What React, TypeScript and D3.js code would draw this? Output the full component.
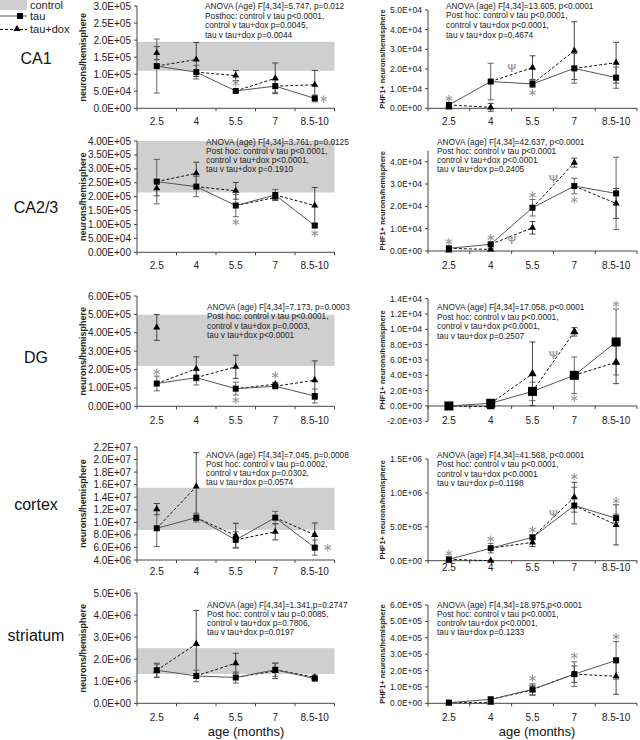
import * as d3 from "d3";

const font = "'Liberation Sans', Arial, Helvetica, sans-serif";
const ages = ["2.5", "4", "5.5", "7", "8.5-10"];

// CA1
const ca1Tau = [1.24e5, 1.06e5, 0.51e5, 0.65e5, 0.29e5];
const ca1TauErr = [0.79e5, 0.2e5, 0.03e5, 0.18e5, 0.1e5];
const ca1Dox = [1.62e5, 1.43e5, 0.96e5, 0.88e5, 0.69e5];
const ca1DoxErr = [0.19e5, 0.5e5, 0.15e5, 0.45e5, 0.42e5];
const ca1Control = [1.1e5, 1.95e5];
const ca1Stars = [[2, 0.74e5, 0], [4, 0.27e5, 9]];
const ca1Notes = ["ANOVA (Age) F[4,34]=5.747, p=0.012", "Posthoc: control v tau p<0.0001,", "control v tau+dox p=0.0045,", "tau v tau+dox p=0.0044"];

const ca1PhfTau = [0.17e4, 1.36e4, 1.24e4, 2.03e4, 1.56e4];
const ca1PhfTauErr = [0.1e4, 0.93e4, 0.18e4, 0.75e4, 0.54e4];
const ca1PhfDox = [0.05e4, 0.05e4, 2.07e4, 2.93e4, 2.32e4];
const ca1PhfDoxErr = [0.03e4, 0.2e4, 0.6e4, 1.47e4, 1.04e4];
const ca1PhfStars = [[0, 0.5e4, 0], [2, 0.79e4, 0]];
const ca1PhfPsi = [[1, 2.05e4]];
const ca1PhfNotes = ["ANOVA (age) F[4,34]=13.605, p<0.0001", "Post hoc: control v tau p<0.0001,", "control v tau+dox p<0.0001,", "tau v tau+dox p=0.4674"];

// CA2/3
const ca23Tau = [2.54e5, 2.36e5, 1.68e5, 2.06e5, 0.96e5];
const ca23TauErr = [0.8e5, 0.36e5, 0.4e5, 0.2e5, 0.06e5];
const ca23Dox = [2.3e5, 2.84e5, 2.21e5, 1.97e5, 1.68e5];
const ca23DoxErr = [0.27e5, 0.4e5, 0.3e5, 0.1e5, 0.65e5];
const ca23Control = [2.15e5, 4.0e5];
const ca23Stars = [[2, 1.08e5, 0], [4, 0.68e5, 0]];
const ca23Notes = ["ANOVA (age) F[4,34]=3.761, p=0.0125", "Post hoc: control v tau p<0.0001,", "control v tau+dox p<0.0001,", "tau v tau+dox p=0.1910"];

const ca23PhfTau = [0.12e4, 0.3e4, 1.94e4, 2.91e4, 2.58e4];
const ca23PhfTauErr = [0.05e4, 0.05e4, 0.37e4, 0.35e4, 1.62e4];
const ca23PhfDox = [0.02e4, 0.07e4, 1.04e4, 3.96e4, 2.13e4];
const ca23PhfDoxErr = [0.03e4, 0.05e4, 0.28e4, 0.2e4, 0.67e4];
const ca23PhfStars = [[0, 0.42e4, 0], [1, 0.6e4, 0], [2, 2.51e4, 0], [3, 2.29e4, 0]];
const ca23PhfPsi = [[1, 0.5e4], [2, 3.23e4]];
const ca23PhfNotes = ["ANOVA (age) F[4,34]=42.637, p<0.0001", "Post hoc: control v tau p<0.0001", "control v tau+dox p<0.0001", "tau v tau+dox p=0.2405"];

// DG
const dgTau = [1.24e5, 1.56e5, 0.96e5, 1.09e5, 0.56e5];
const dgTauErr = [0.4e5, 0.4e5, 0.35e5, 0.1e5, 0.38e5];
const dgDox = [4.29e5, 2.04e5, 2.15e5, 1.2e5, 1.42e5];
const dgDoxErr = [0.7e5, 0.65e5, 0.63e5, 0.1e5, 1.05e5];
const dgControl = [2.2e5, 4.98e5];
const dgStars = [[0, 1.87e5, 0], [2, 0.33e5, 0], [3, 1.69e5, 0]];
const dgNotes = ["ANOVA (age) F[4,34]=7.173, p=0.0003", "Post hoc: control v tau p<0.0001,", "control v tau+dox p=0.0003,", "tau v tau+dox p<0.0001"];

const dgPhfTau = [0, 0.35e3, 1.9e3, 4.0e3, 8.35e3];
const dgPhfTauErr = [0.05e3, 0.4e3, 1.2e3, 2.4e3, 4.3e3];
const dgPhfDox = [0, -0.1e3, 4.2e3, 9.67e3, 5.71e3];
const dgPhfDoxErr = [0.05e3, 0.2e3, 4.15e3, 0.55e3, 2.8e3];
const dgPhfStars = [[3, 1.0e3, 0], [4, 13.3e3, 0]];
const dgPhfPsi = [[2, 6.6e3]];
const dgPhfNotes = ["ANOVA (age) F[4,34]=17.058, p<0.0001", "Post hoc: control v tau p<0.0001,", "control v tau+dox p<0.0001,", "tau v tau+dox p=0.2507"];

// cortex
const ctxTau = [9.05e6, 10.75e6, 7.2e6, 10.75e6, 5.97e6];
const ctxTauErr = [2.9e6, 0.7e6, 1.3e6, 1.0e6, 1.2e6];
const ctxDox = [12.1e6, 15.7e6, 7.9e6, 8.5e6, 8.0e6];
const ctxDoxErr = [0.9e6, 5.4e6, 1.95e6, 1.3e6, 1.9e6];
const ctxControl = [8.8e6, 15.5e6];
const ctxStars = [[4, 5.97e6, 13]];
const ctxNotes = ["ANOVA (age) F[4,34]=7.045, p=0.0008", "Post hoc: control v tau p=0.0002,", "control v tau+dox p=0.0302,", "tau v tau+dox p=0.0574"];

const ctxPhfTau = [0.02e6, 1.85e5, 3.45e5, 8.13e5, 6.27e5];
const ctxPhfTauErr = [0.01e6, 0.7e5, 0.3e5, 2.7e5, 0.6e5];
const ctxPhfDox = [0, 0, 2.7e5, 9.36e5, 5.28e5];
const ctxPhfDoxErr = [0.005e6, 0.005e6, 0.6e5, 2.2e5, 2.96e5];
const ctxPhfStars = [[0, 1.1e5, 0], [1, 3.2e5, 0], [2, 4.55e5, 0], [3, 12.4e5, 0], [4, 8.85e5, 0]];
const ctxPhfPsi = [[2, 6.9e5]];
const ctxPhfNotes = ["ANOVA (age) F[4,34]=41.568, p<0.0001", "Post hoc: control v tau p<0.0001,", "control v tau+dox p<0.0001", "tau v tau+dox p=0.1198"];

// striatum
const strTau = [1.5e6, 1.24e6, 1.17e6, 1.52e6, 1.12e6];
const strTauErr = [0.32e6, 0.26e6, 0.25e6, 0.3e6, 0.08e6];
const strDox = [1.48e6, 2.69e6, 1.82e6, 1.47e6, 1.18e6];
const strDoxErr = [0.3e6, 1.52e6, 0.45e6, 0.35e6, 0.1e6];
const strControl = [1.33e6, 2.5e6];
const strNotes = ["ANOVA (age) F[4,34]=1.341,p=0.2747", "Post hoc: control v tau p=0.0085,", "control v tau+dox p=0.7806,", "tau v tau+dox p=0.0197"];

const strPhfTau = [0.04e5, 0.24e5, 0.85e5, 1.78e5, 2.62e5];
const strPhfTauErr = [0.02e5, 0.15e5, 0.34e5, 0.75e5, 1.15e5];
const strPhfDox = [0, 0.04e5, 0.8e5, 1.78e5, 1.65e5];
const strPhfDoxErr = [0.01e5, 0.03e5, 0.3e5, 0.5e5, 1.1e5];
const strPhfStars = [[2, 1.52e5, 0], [3, 2.9e5, 0], [4, 4.06e5, 0]];
const strPhfNotes = ["ANOVA (age) F[4,34]=18.975,p<0.0001", "Post hoc: control v tau p<0.0001,", "controlv tau+dox p<0.0001,", "tau v tau+dox p=0.1233"];

const rowLabels = ["CA1", "CA2/3", "DG", "cortex", "striatum"];

// Excel style "3.0E+05"
const sci = (v: number, d: number) => {
  if (v === 0) return (0).toFixed(d) + "E+00";
  const e = Math.floor(Math.log10(Math.abs(v)) + 1e-9);
  const m = v / Math.pow(10, e);
  return m.toFixed(d) + "E" + (e < 0 ? "-" : "+") + String(Math.abs(e)).padStart(2, "0");
};

const LX: [number, number] = [137, 334.5];
const RX: [number, number] = [428, 637];

type Cfg = {
  xr: [number, number];
  yr: [number, number];
  domain: [number, number];
  step: number;
  tickMax?: number;
  digits: number;
  right: boolean;
  labelY: number;
  tau: number[];
  tauErr: number[];
  dox: number[];
  doxErr: number[];
  control?: number[];
  stars?: number[][];
  psi?: number[][];
  notes: string[];
  noteX: number;
  noteY: number;
  noteStep: number;
  big?: boolean;
};

const panels: Cfg[] = [
  { xr: LX, yr: [108.3, 6], domain: [0, 3e5], step: 0.5e5, digits: 1, right: false, labelY: 125,
    tau: ca1Tau, tauErr: ca1TauErr, dox: ca1Dox, doxErr: ca1DoxErr, control: ca1Control, stars: ca1Stars,
    notes: ca1Notes, noteX: 205, noteY: 9, noteStep: 9.7 },
  { xr: RX, yr: [108.3, 10], domain: [0, 5e4], step: 1e4, digits: 1, right: true, labelY: 125,
    tau: ca1PhfTau, tauErr: ca1PhfTauErr, dox: ca1PhfDox, doxErr: ca1PhfDoxErr, stars: ca1PhfStars, psi: ca1PhfPsi,
    notes: ca1PhfNotes, noteX: 446, noteY: 8.5, noteStep: 9.7 },
  { xr: LX, yr: [252.3, 141], domain: [0, 4e5], step: 0.5e5, digits: 2, right: false, labelY: 269,
    tau: ca23Tau, tauErr: ca23TauErr, dox: ca23Dox, doxErr: ca23DoxErr, control: ca23Control, stars: ca23Stars,
    notes: ca23Notes, noteX: 206, noteY: 145, noteStep: 9 },
  { xr: RX, yr: [251, 150.6], domain: [0, 4.5e4], step: 1e4, tickMax: 4e4, digits: 1, right: true, labelY: 269,
    tau: ca23PhfTau, tauErr: ca23PhfTauErr, dox: ca23PhfDox, doxErr: ca23PhfDoxErr, stars: ca23PhfStars, psi: ca23PhfPsi,
    notes: ca23PhfNotes, noteX: 437, noteY: 145, noteStep: 9 },
  { xr: LX, yr: [406.3, 296], domain: [0, 6e5], step: 1e5, digits: 2, right: false, labelY: 424,
    tau: dgTau, tauErr: dgTauErr, dox: dgDox, doxErr: dgDoxErr, control: dgControl, stars: dgStars,
    notes: dgNotes, noteX: 207, noteY: 310, noteStep: 9.3 },
  { xr: RX, yr: [421.3, 298.7], domain: [-2e3, 1.4e4], step: 2e3, digits: 1, right: true, labelY: 424,
    tau: dgPhfTau, tauErr: dgPhfTauErr, dox: dgPhfDox, doxErr: dgPhfDoxErr, stars: dgPhfStars, psi: dgPhfPsi,
    notes: dgPhfNotes, noteX: 437, noteY: 310, noteStep: 9.5, big: true },
  { xr: LX, yr: [560, 447], domain: [4e6, 2.2e7], step: 2e6, digits: 1, right: false, labelY: 575,
    tau: ctxTau, tauErr: ctxTauErr, dox: ctxDox, doxErr: ctxDoxErr, control: ctxControl, stars: ctxStars,
    notes: ctxNotes, noteX: 206, noteY: 458, noteStep: 9.1 },
  { xr: RX, yr: [560.7, 459], domain: [0, 1.5e6], step: 5e5, digits: 1, right: true, labelY: 571,
    tau: ctxPhfTau, tauErr: ctxPhfTauErr, dox: ctxPhfDox, doxErr: ctxPhfDoxErr, stars: ctxPhfStars, psi: ctxPhfPsi,
    notes: ctxPhfNotes, noteX: 437, noteY: 458, noteStep: 9.4 },
  { xr: LX, yr: [703.3, 593], domain: [0, 5e6], step: 1e6, digits: 1, right: false, labelY: 721,
    tau: strTau, tauErr: strTauErr, dox: strDox, doxErr: strDoxErr, control: strControl,
    notes: strNotes, noteX: 207, noteY: 608, noteStep: 8.9 },
  { xr: RX, yr: [703.3, 605], domain: [0, 6e5], step: 1e5, digits: 1, right: true, labelY: 721,
    tau: strPhfTau, tauErr: strPhfTauErr, dox: strPhfDox, doxErr: strPhfDoxErr, stars: strPhfStars,
    notes: strPhfNotes, noteX: 437, noteY: 608, noteStep: 9.1 },
];

const Star = ({ cx, cy }: { cx: number; cy: number }) => {
  const r = 3.6;
  const d = [90, 30, 150]
    .map((a) => {
      const t = (a * Math.PI) / 180;
      return `M${cx - r * Math.cos(t)},${cy - r * Math.sin(t)}L${cx + r * Math.cos(t)},${cy + r * Math.sin(t)}`;
    })
    .join("");
  return <path d={d} stroke="#999" strokeWidth={1.1} />;
};

const Panel = ({ c }: { c: Cfg }) => {
  const x = d3.scalePoint().domain(ages).range(c.xr).padding(0.5);
  const y = d3.scaleLinear().domain(c.domain).range(c.yr);
  const xs = (i: number) => x(ages[i]) as number;
  const ticks = d3.range(c.domain[0], (c.tickMax ?? c.domain[1]) + c.step / 2, c.step);
  const axisY = y(Math.max(0, c.domain[0]));
  const line = d3.line<number>().x((_, i) => xs(i)).y((v) => y(v));
  // in the original the dashed segments leave from the previous tau point
  const seg = d3.line<[number, number]>().x((d) => xs(d[0])).y((d) => y(d[1]));
  const doxPath = d3
    .range(c.dox.length - 1)
    .map((i) => seg([[i, c.tau[i]], [i + 1, c.dox[i + 1]]]))
    .join("");
  const tri = d3.symbol(d3.symbolTriangle, c.big ? 30 : 22)();
  const sq = c.big ? 9 : 6;
  const yMid = (c.yr[0] + c.yr[1]) / 2;

  const errBars = (vals: number[], errs: number[], col: string) =>
    vals.map((v, i) => {
      const cx = xs(i);
      const y1 = y(v - errs[i]);
      const y2 = y(v + errs[i]);
      return (
        <g key={i} stroke={col} strokeWidth={0.9}>
          <line x1={cx} x2={cx} y1={y1} y2={y2} />
          <line x1={cx - 3} x2={cx + 3} y1={y1} y2={y1} />
          <line x1={cx - 3} x2={cx + 3} y1={y2} y2={y2} />
        </g>
      );
    });

  return (
    <g fontFamily={font}>
      {c.control && (
        <rect x={c.xr[0]} width={c.xr[1] - c.xr[0]} y={y(c.control[1])} height={y(c.control[0]) - y(c.control[1])} fill="#cfcfcf" />
      )}
      {/* y axis */}
      <line x1={c.xr[0]} x2={c.xr[0]} y1={c.yr[0]} y2={c.yr[1]} stroke="#444" />
      {ticks.map((t) => (
        <g key={t}>
          <line x1={c.xr[0] - 3} x2={c.xr[0]} y1={y(t)} y2={y(t)} stroke="#444" />
          <text x={c.xr[0] - 6} y={y(t)} dy="0.35em" textAnchor="end" fontSize={c.right ? 8.5 : 10} fill="#222">
            {sci(t, c.digits)}
          </text>
        </g>
      ))}
      {/* x axis */}
      <line x1={c.xr[0]} x2={c.xr[1]} y1={axisY} y2={axisY} stroke="#444" />
      {d3.range(6).map((k) => {
        const tx = c.xr[0] + k * x.step();
        return <line key={k} x1={tx} x2={tx} y1={axisY} y2={axisY + 3} stroke="#444" />;
      })}
      {ages.map((a, i) => (
        <text key={a} x={xs(i)} y={c.labelY} textAnchor="middle" fontSize={10} fill="#222">
          {a}
        </text>
      ))}
      <text
        transform={`translate(${c.right ? c.xr[0] - 46 : c.xr[0] - 54},${yMid}) rotate(-90)`}
        textAnchor="middle"
        dy="0.35em"
        fontSize={c.right ? 7.5 : 9}
        fontWeight="bold"
        fill="#222"
      >
        {c.right ? "PHF1+ neurons/hemisphere" : "neurons/hemisphere"}
      </text>
      {/* series */}
      <path d={doxPath} fill="none" stroke="#111" strokeWidth={1} strokeDasharray="3,2" />
      <path d={line(c.tau) ?? ""} fill="none" stroke="#555" strokeWidth={1} />
      {errBars(c.dox, c.doxErr, "#333")}
      {errBars(c.tau, c.tauErr, "#555")}
      {c.dox.map((v, i) => (
        <path key={i} d={tri ?? ""} transform={`translate(${xs(i)},${y(v)})`} fill="#000" />
      ))}
      {c.tau.map((v, i) => (
        <rect key={i} x={xs(i) - sq / 2} y={y(v) - sq / 2} width={sq} height={sq} fill="#000" />
      ))}
      {(c.stars ?? []).map(([i, v, dx], k) => (
        <Star key={k} cx={xs(i) + dx} cy={y(v)} />
      ))}
      {(c.psi ?? []).map(([i, v], k) => (
        <text key={k} x={(xs(i) + xs(i + 1)) / 2} y={y(v)} dy="0.35em" textAnchor="middle" fontSize={11} fontWeight="bold" fill="#999">
          Ψ
        </text>
      ))}
      {c.notes.map((s, k) => (
        <text key={k} x={c.noteX} y={c.noteY + k * c.noteStep} fontSize={8.3} fill="#222">
          {s}
        </text>
      ))}
    </g>
  );
};

export default function App() {
  const rowY = [64, 213, 363, 510, 641];
  const tri = d3.symbol(d3.symbolTriangle, 22)();
  return (
    <svg width={640} height={740} style={{ position: "absolute", left: 0, top: 0, background: "#fff" }} fontFamily={font}>
      <rect width={640} height={740} fill="#fff" />
      {/* legend */}
      <rect x={0} y={0} width={27} height={10} fill="#cfcfcf" />
      <text x={30} y={9} fontSize={11} fill="#222">control</text>
      <line x1={0} x2={27} y1={16} y2={16} stroke="#555" />
      <rect x={17} y={13} width={6} height={6} fill="#000" />
      <text x={30} y={20} fontSize={11} fill="#222">tau</text>
      <line x1={0} x2={27} y1={29.5} y2={29.5} stroke="#111" strokeDasharray="3,2" />
      <path d={tri ?? ""} transform="translate(17,29)" fill="#000" />
      <text x={30} y={33} fontSize={11} fill="#222">tau+dox</text>
      {rowLabels.map((l, i) => (
        <text key={l} x={36} y={rowY[i]} textAnchor="middle" fontSize={16} fill="#111">
          {l}
        </text>
      ))}
      {panels.map((p, i) => (
        <Panel key={i} c={p} />
      ))}
      <text x={246} y={736} textAnchor="middle" fontSize={13} fill="#111">age (months)</text>
      <text x={537} y={736} textAnchor="middle" fontSize={13} fill="#111">age (months)</text>
    </svg>
  );
}
